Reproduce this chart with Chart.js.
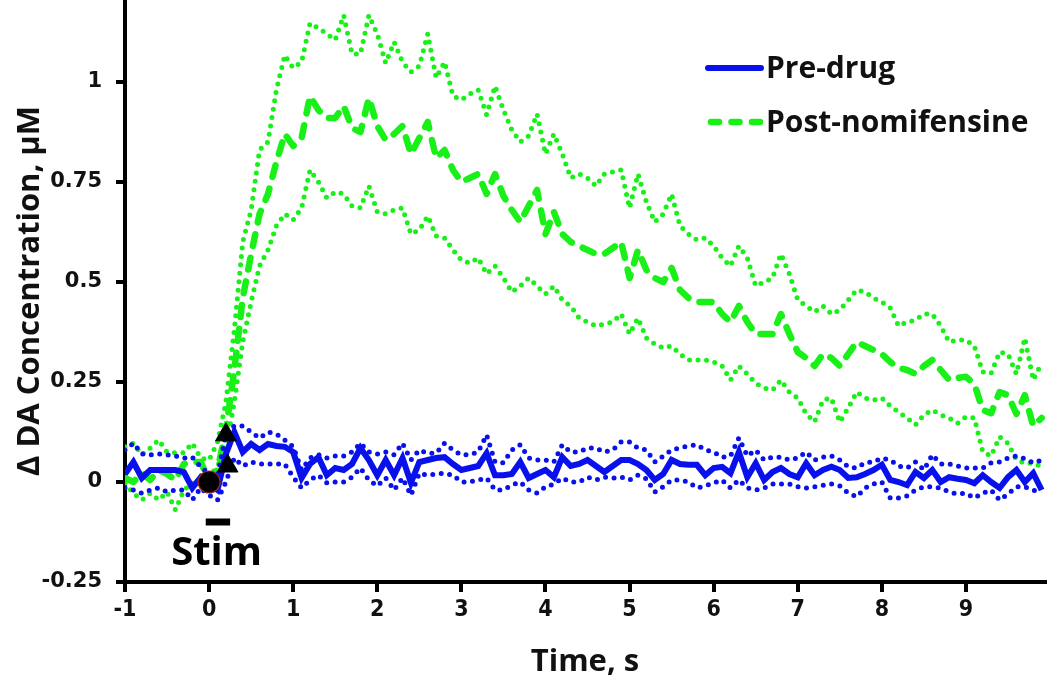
<!DOCTYPE html>
<html>
<head>
<meta charset="utf-8">
<script src="https://cdn.jsdelivr.net/npm/chart.js@4.4.1/dist/chart.umd.min.js"></script>
<style>
  html, body { margin: 0; padding: 0; background: #ffffff; }
  #wrap { width: 1050px; height: 684px; position: relative; }
</style>
</head>
<body>
<div id="wrap"><canvas id="c" width="1050" height="684"></canvas></div>
<script>
// ---- Data ----
const times = [
  -1.0,-0.9,-0.8,-0.7,-0.6,-0.5,-0.4,-0.3,-0.2,-0.1,
  0.0,0.1,0.2,0.3,0.4,0.5,0.6,0.7,0.8,0.9,
  1.0,1.1,1.2,1.3,1.4,1.5,1.6,1.7,1.8,1.9,
  2.0,2.1,2.2,2.3,2.4,2.5,2.6,2.7,2.8,2.9,
  3.0,3.1,3.2,3.3,3.4,3.5,3.6,3.7,3.8,3.9,
  4.0,4.1,4.2,4.3,4.4,4.5,4.6,4.7,4.8,4.9,
  5.0,5.1,5.2,5.3,5.4,5.5,5.6,5.7,5.8,5.9,
  6.0,6.1,6.2,6.3,6.4,6.5,6.6,6.7,6.8,6.9,
  7.0,7.1,7.2,7.3,7.4,7.5,7.6,7.7,7.8,7.9,
  8.0,8.1,8.2,8.3,8.4,8.5,8.6,8.7,8.8,8.9,
  9.0,9.1,9.2,9.3,9.4,9.5,9.6,9.7,9.8,9.9
];

const preDrugMean = [
  0.020,0.050,0.010,0.030,0.030,0.030,0.030,0.025,-0.015,0.012,
  -0.005,-0.020,0.070,0.125,0.075,0.095,0.080,0.095,0.090,0.088,
  0.075,0.010,0.045,0.062,0.017,0.035,0.030,0.045,0.085,0.055,
  0.017,0.055,0.017,0.060,-0.002,0.050,0.055,0.060,0.062,0.045,
  0.030,0.035,0.040,0.072,0.017,0.017,0.020,0.050,0.010,0.020,
  0.030,0.012,0.062,0.040,0.045,0.055,0.040,0.025,0.040,0.055,
  0.055,0.045,0.030,0.005,0.020,0.055,0.045,0.043,0.043,0.017,
  0.035,0.038,0.022,0.075,0.012,0.047,0.005,0.025,0.035,0.020,
  0.012,0.047,0.017,0.030,0.038,0.030,0.010,0.012,0.020,0.030,
  0.043,0.005,0.000,-0.008,0.025,0.010,0.030,0.000,0.012,0.008,
  0.005,-0.003,0.017,0.000,-0.015,0.012,0.030,0.000,0.022,-0.020
];
const preDrugUpper = [
  0.080,0.097,0.070,0.068,0.070,0.068,0.065,0.060,0.062,0.038,
  0.020,0.015,0.120,0.140,0.140,0.125,0.110,0.125,0.120,0.105,
  0.088,0.030,0.060,0.068,0.060,0.065,0.065,0.075,0.097,0.075,
  0.070,0.075,0.068,0.097,0.055,0.080,0.072,0.072,0.097,0.080,
  0.068,0.068,0.075,0.118,0.050,0.048,0.080,0.093,0.060,0.055,
  0.055,0.050,0.093,0.075,0.075,0.085,0.085,0.075,0.080,0.100,
  0.100,0.085,0.080,0.050,0.065,0.080,0.085,0.090,0.093,0.080,
  0.075,0.062,0.065,0.110,0.065,0.080,0.055,0.062,0.062,0.055,
  0.060,0.075,0.055,0.062,0.065,0.055,0.038,0.035,0.048,0.050,
  0.060,0.055,0.040,0.035,0.050,0.030,0.068,0.045,0.045,0.040,
  0.035,0.035,0.035,0.048,0.050,0.060,0.065,0.058,0.048,0.055
];
const preDrugLower = [
  -0.015,-0.020,-0.028,-0.020,-0.015,-0.025,-0.020,-0.020,-0.045,-0.015,
  -0.033,-0.045,0.000,0.060,0.040,0.050,0.045,0.045,0.045,0.045,
  0.012,-0.015,0.005,0.017,-0.002,0.000,0.000,0.012,0.035,0.005,
  -0.010,0.010,-0.020,0.010,-0.033,0.022,0.017,0.020,0.022,0.017,
  0.000,0.000,0.005,0.010,-0.020,-0.020,-0.008,0.000,-0.020,-0.028,
  -0.012,-0.005,0.010,0.000,0.000,0.012,0.005,0.012,0.010,0.012,
  0.005,0.017,0.008,-0.025,-0.012,0.005,0.005,0.000,-0.015,-0.010,
  -0.002,0.005,-0.015,0.005,-0.015,-0.020,-0.015,-0.005,-0.005,-0.005,
  -0.012,-0.015,-0.012,-0.008,-0.005,-0.010,-0.028,-0.037,-0.015,-0.005,
  0.000,-0.040,-0.040,-0.035,-0.020,-0.012,-0.012,-0.015,-0.025,-0.030,
  -0.028,-0.040,-0.028,-0.020,-0.045,-0.030,-0.012,-0.012,-0.020,-0.030
];

const postNomMean = [
  0.010,0.000,0.022,0.005,0.030,0.020,0.005,0.045,0.050,0.050,
  0.005,0.030,0.130,0.280,0.460,0.570,0.670,0.720,0.800,0.870,
  0.840,0.860,0.965,0.930,0.910,0.910,0.940,0.885,0.875,0.960,
  0.890,0.855,0.870,0.890,0.820,0.860,0.900,0.810,0.830,0.780,
  0.750,0.760,0.770,0.720,0.770,0.715,0.680,0.650,0.690,0.730,
  0.620,0.675,0.620,0.600,0.590,0.580,0.570,0.570,0.585,0.600,
  0.510,0.580,0.530,0.510,0.500,0.535,0.480,0.460,0.450,0.450,
  0.450,0.420,0.400,0.440,0.400,0.370,0.370,0.370,0.420,0.370,
  0.325,0.310,0.290,0.320,0.310,0.290,0.320,0.350,0.340,0.330,
  0.320,0.300,0.285,0.280,0.270,0.290,0.305,0.280,0.255,0.260,
  0.263,0.245,0.180,0.172,0.225,0.217,0.170,0.217,0.140,0.160
];
const postNomUpper = [
  0.088,0.097,0.068,0.085,0.105,0.075,0.073,0.073,0.097,0.060,
  0.055,0.100,0.200,0.380,0.600,0.680,0.830,0.850,0.980,1.067,
  1.035,1.050,1.147,1.135,1.120,1.105,1.167,1.070,1.070,1.167,
  1.120,1.047,1.100,1.050,1.025,1.040,1.120,1.010,1.050,0.965,
  0.955,0.970,0.980,0.918,0.990,0.930,0.880,0.850,0.865,0.920,
  0.820,0.870,0.820,0.760,0.770,0.760,0.740,0.770,0.775,0.780,
  0.685,0.770,0.700,0.650,0.670,0.720,0.640,0.620,0.605,0.610,
  0.590,0.560,0.540,0.590,0.560,0.490,0.500,0.510,0.570,0.520,
  0.455,0.440,0.425,0.440,0.420,0.430,0.455,0.480,0.475,0.460,
  0.450,0.435,0.390,0.400,0.405,0.420,0.420,0.390,0.350,0.355,
  0.355,0.340,0.275,0.272,0.325,0.320,0.270,0.360,0.255,0.298
];
const postNomLower = [
  -0.003,-0.028,-0.045,-0.028,-0.045,-0.025,-0.070,-0.020,-0.003,-0.003,
  0.012,0.040,0.080,0.200,0.350,0.450,0.540,0.580,0.640,0.670,
  0.655,0.685,0.780,0.750,0.710,0.725,0.720,0.690,0.685,0.740,
  0.675,0.670,0.680,0.685,0.620,0.630,0.665,0.615,0.610,0.580,
  0.555,0.547,0.560,0.520,0.540,0.510,0.475,0.490,0.510,0.490,
  0.470,0.490,0.455,0.440,0.410,0.400,0.390,0.395,0.400,0.420,
  0.370,0.410,0.360,0.345,0.335,0.340,0.320,0.305,0.305,0.305,
  0.300,0.290,0.255,0.290,0.270,0.247,0.235,0.230,0.255,0.225,
  0.210,0.170,0.150,0.205,0.210,0.150,0.185,0.225,0.210,0.205,
  0.210,0.190,0.175,0.160,0.143,0.168,0.180,0.168,0.160,0.147,
  0.163,0.160,0.075,0.065,0.113,0.097,0.055,0.047,0.047,0.038
];

// Markers and stimulation bar
const circleTimes = [0.0];
const circleValues = [0.0];
const triangleTimes = [0.2, 0.22];
const triangleValues = [0.118, 0.04];
const stimBarTimes = [-0.04, 0.25];
const stimBarValues = [-0.1, -0.1];

// Axis ticks
const xTicks = [-1,0,1,2,3,4,5,6,7,8,9];
const yTicks = [-0.25,0,0.25,0.5,0.75,1];

// Labels
const seriesNames = ['Pre-drug', 'Post-nomifensine'];
const xTitle = 'Time, s';
const yTitle = '\u0394 DA Concentration, \u03bcM';
const stimLabel = 'Stim';

// ---- Build ----
const pts = (xs, ys) => xs.map((x, i) => ({x: x, y: ys[i]}));
const BLUE = 'rgb(8,16,235)';
const GREEN = 'rgb(24,240,24)';

const dotted = (color, order) => ({
  borderColor: color, borderWidth: 5, borderDash: [0, 8.5], order: order,
  borderCapStyle: 'round', pointRadius: 0, fill: false, tension: 0
});

const datasets = [
  Object.assign({label: 'post-upper', data: pts(times, postNomUpper)}, dotted(GREEN, 8)),
  Object.assign({label: 'post-lower', data: pts(times, postNomLower)}, dotted(GREEN, 8)),
  {label: seriesNames[1], data: pts(times, postNomMean), borderColor: GREEN, borderWidth: 6.5, order: 7,
   borderDash: [12, 12], borderCapStyle: 'round', borderJoinStyle: 'round', pointRadius: 0, tension: 0},
  Object.assign({label: 'pre-upper', data: pts(times, preDrugUpper)}, dotted(BLUE, 6)),
  Object.assign({label: 'pre-lower', data: pts(times, preDrugLower)}, dotted(BLUE, 6)),
  {label: seriesNames[0], data: pts(times, preDrugMean), borderColor: BLUE, borderWidth: 6, order: 5,
   borderJoinStyle: 'miter', borderCapStyle: 'butt', pointRadius: 0, tension: 0},
  {label: 'stim-bar', data: pts(stimBarTimes, stimBarValues), borderColor: '#000', borderWidth: 7, order: 1,
   pointRadius: 0, borderCapStyle: 'butt'},
  {label: 'circle', data: pts(circleTimes, circleValues), showLine: false, pointStyle: 'circle', order: 0,
   pointRadius: 11, backgroundColor: '#000', borderColor: 'rgb(150,40,30)', borderWidth: 1.2},
  {label: 'triangles', data: pts(triangleTimes, triangleValues), showLine: false, pointStyle: 'triangle', order: 0,
   pointRadius: 12, backgroundColor: '#000', borderColor: '#000', borderWidth: 1}
];

const overlayPlugin = {
  id: 'overlay',
  afterDatasetsDraw(chart) {
    const ctx = chart.ctx;
    const xs = chart.scales.x, ys = chart.scales.y;
    ctx.save();
    // Stim label
    ctx.fillStyle = '#000';
    ctx.font = 'bold 40px "Open Sans", sans-serif';
    ctx.textAlign = 'center';
    ctx.textBaseline = 'middle';
    ctx.fillText(stimLabel, xs.getPixelForValue(0.09), ys.getPixelForValue(-0.178));
    // Legend
    const lx0 = 708, lx1 = 761, lt = 766;
    const rows = [68, 122];
    ctx.lineCap = 'round';
    ctx.strokeStyle = BLUE; ctx.lineWidth = 6; ctx.setLineDash([]);
    ctx.beginPath(); ctx.moveTo(lx0, rows[0]); ctx.lineTo(lx1, rows[0]); ctx.stroke();
    ctx.strokeStyle = GREEN; ctx.lineWidth = 6.5; ctx.setLineDash([8, 12.5]);
    ctx.beginPath(); ctx.moveTo(lx0 + 3, rows[1]); ctx.lineTo(lx1, rows[1]); ctx.stroke();
    ctx.setLineDash([]);
    ctx.fillStyle = '#111';
    ctx.font = 'bold 30px "Open Sans", sans-serif';
    ctx.textAlign = 'left';
    ctx.textBaseline = 'middle';
    ctx.fillText(seriesNames[0], lt, rows[0] + 1);
    ctx.fillText(seriesNames[1], lt, rows[1] + 1);
    ctx.restore();
  }
};

const zeroPad = (s) => { s.paddingTop = 0; s.paddingBottom = 0; s.paddingLeft = 0; s.paddingRight = 0; };

new Chart(document.getElementById('c'), {
  type: 'line',
  data: { datasets: datasets },
  options: {
    responsive: false,
    animation: false,
    devicePixelRatio: 1,
    layout: { autoPadding: false, padding: { left: 0, right: 5, top: 0, bottom: 0 } },
    plugins: { legend: { display: false }, tooltip: { enabled: false } },
    elements: { line: { fill: false } },
    scales: {
      x: {
        type: 'linear', min: -1, max: 9.94,
        afterFit(s) { s.height = 102; zeroPad(s); },
        afterBuildTicks(s) { s.ticks = xTicks.map(v => ({value: v})); },
        border: { display: true, color: '#000', width: 4 },
        grid: { display: true, drawOnChartArea: false, drawTicks: true, tickLength: 10, color: '#000', lineWidth: 4 },
        ticks: { color: '#111', padding: 4, maxRotation: 0, autoSkip: false,
          font: { family: '"DejaVu Sans Condensed", "Open Sans", sans-serif', size: 23, weight: 'bold' },
          callback: (v) => String(v) },
        title: { display: true, text: xTitle, color: '#111',
          font: { family: '"Open Sans", sans-serif', size: 31, weight: 'bold' }, padding: { top: 0, bottom: 3 } }
      },
      y: {
        type: 'linear', min: -0.25, max: 1.205,
        afterFit(s) { s.width = 125; zeroPad(s); },
        afterBuildTicks(s) { s.ticks = yTicks.map(v => ({value: v})); },
        border: { display: true, color: '#000', width: 4 },
        grid: { display: true, drawOnChartArea: false, drawTicks: true, tickLength: 9, color: '#000', lineWidth: 4 },
        ticks: { color: '#111', padding: 14,
          font: { family: '"DejaVu Sans", sans-serif', size: 21, weight: 'bold' },
          callback: (v) => String(v) },
        title: { display: true, text: yTitle, color: '#111',
          font: { family: '"Open Sans", sans-serif', size: 31, weight: 'bold' }, padding: { top: 12, bottom: 0 } }
      }
    }
  },
  plugins: [overlayPlugin]
});
</script>
</body>
</html>
